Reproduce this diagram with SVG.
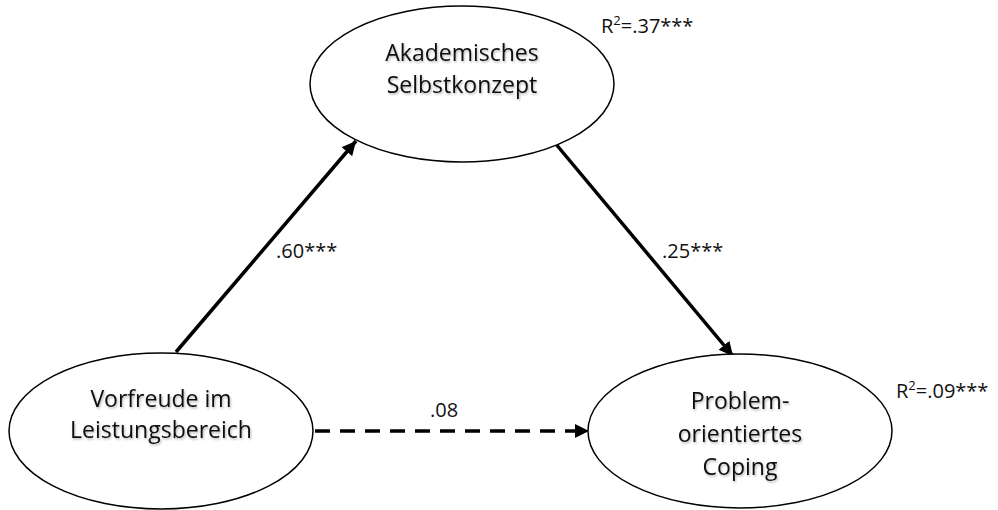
<svg xmlns="http://www.w3.org/2000/svg" width="998" height="510" viewBox="0 0 998 510">
<defs>
<style>
.node ellipse{fill:#fff;stroke:#000;stroke-width:1.5}
.lbl{font-family:"Open Sans","Liberation Sans",sans-serif;font-size:23px;fill:#111;text-anchor:middle}
.coef{font-family:"Open Sans","Liberation Sans",sans-serif;font-size:20px;fill:#111}
.edge{stroke:#000;stroke-width:3.5;fill:none}
.dash{stroke-dasharray:15 10}
</style>
<marker id="ah" viewBox="0 0 10 10" refX="10" refY="5" markerWidth="4" markerHeight="4" orient="auto" markerUnits="strokeWidth">
<path d="M0,0 L10,5 L0,10 z" fill="#000"/>
</marker>
<filter id="sh" x="-10%" y="-30%" width="120%" height="160%">
<feDropShadow dx="1" dy="1.5" stdDeviation="1" flood-color="#000" flood-opacity="0.3"/>
</filter>
</defs>
<g id="connectors">
<line class="edge" x1="176" y1="352" x2="356" y2="141" marker-end="url(#ah)"/>
<line class="edge" x1="555" y1="143" x2="733" y2="356" marker-end="url(#ah)"/>
<line class="edge dash" x1="315" y1="431" x2="589" y2="431" marker-end="url(#ah)"/>
<text class="coef" x="276" y="258">.60***</text>
<text class="coef" x="662" y="258">.25***</text>
<text class="coef" x="430" y="417">.08</text>
</g>
<g id="node-selbstkonzept" class="node">
<ellipse cx="462" cy="84" rx="152" ry="78"/>
<g filter="url(#sh)">
<text class="lbl" x="462" y="61">Akademisches</text>
<text class="lbl" x="462" y="93">Selbstkonzept</text>
</g>
<text class="coef" x="601" y="33">R<tspan font-size="13" dy="-8">2</tspan><tspan dy="8">=.37***</tspan></text>
</g>
<g id="node-vorfreude" class="node">
<ellipse cx="161" cy="431" rx="152" ry="78"/>
<g filter="url(#sh)">
<text class="lbl" x="161" y="407">Vorfreude im</text>
<text class="lbl" x="161" y="438">Leistungsbereich</text>
</g>
</g>
<g id="node-coping" class="node">
<ellipse cx="740" cy="431" rx="152" ry="77"/>
<g filter="url(#sh)">
<text class="lbl" x="740" y="409">Problem-</text>
<text class="lbl" x="740" y="442">orientiertes</text>
<text class="lbl" x="740" y="475">Coping</text>
</g>
<text class="coef" x="896" y="398">R<tspan font-size="13" dy="-8">2</tspan><tspan dy="8">=.09***</tspan></text>
</g>
</svg>
